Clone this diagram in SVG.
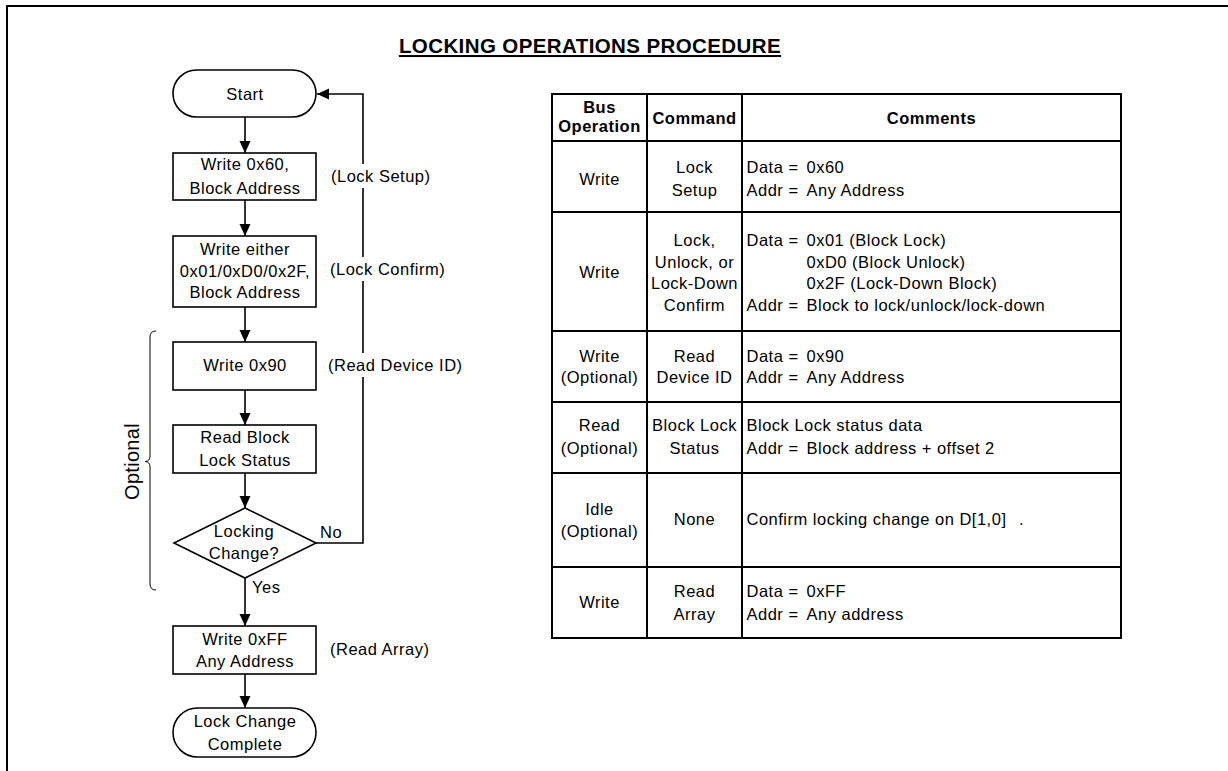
<svg xmlns="http://www.w3.org/2000/svg" width="1228" height="771" viewBox="0 0 1228 771">
<style>
text{font-family:"Liberation Sans",Arial,sans-serif;font-size:16.5px;letter-spacing:0.5px;fill:#000}
.c{text-anchor:middle}
.b{font-weight:bold}
.title{font-size:20.5px;font-weight:bold;letter-spacing:0.4px;text-anchor:middle;text-decoration:underline}
.shape{fill:#fff;stroke:#000;stroke-width:1.6}
.conn{fill:none;stroke:#000;stroke-width:1.6}
.tbl{fill:none;stroke:#000;stroke-width:2}
.bg{fill:#fff;stroke:none}
</style>
<defs>
<marker id="arr" markerUnits="userSpaceOnUse" markerWidth="13" markerHeight="12" refX="12" refY="5.5" orient="auto">
<path d="M0,0 L12,5.5 L0,11 z" fill="#000"/>
</marker>
</defs>
<rect width="1228" height="771" fill="#fff"/>
<!-- frame -->
<path d="M7,771 V6 H1228" fill="none" stroke="#000" stroke-width="2"/>
<text class="title" x="590" y="53">LOCKING OPERATIONS PROCEDURE</text>

<g id="connectors">
<line class="conn" x1="245" y1="117" x2="245" y2="153" marker-end="url(#arr)"/>
<line class="conn" x1="245" y1="200" x2="245" y2="236" marker-end="url(#arr)"/>
<line class="conn" x1="245" y1="307" x2="245" y2="342" marker-end="url(#arr)"/>
<line class="conn" x1="245" y1="390" x2="245" y2="425" marker-end="url(#arr)"/>
<line class="conn" x1="245" y1="473" x2="245" y2="508" marker-end="url(#arr)"/>
<line class="conn" x1="245" y1="578" x2="245" y2="626" marker-end="url(#arr)"/>
<line class="conn" x1="245" y1="674" x2="245" y2="708" marker-end="url(#arr)"/>
<polyline class="conn" points="316,543 363,543 363,94 317,94" marker-end="url(#arr)"/>
<text x="320" y="538">No</text>
<text x="252" y="593">Yes</text>
</g>

<g id="start">
<rect class="shape" x="173" y="70" width="143" height="47" rx="23.5" ry="23.5"/>
<text class="c" x="245" y="100">Start</text>
</g>
<g id="lock-setup">
<rect class="shape" x="173" y="153" width="143" height="47"/>
<text class="c" x="245" y="170">Write 0x60,</text>
<text class="c" x="245" y="194">Block Address</text>
</g>
<g id="lock-confirm">
<rect class="shape" x="173" y="236" width="143" height="71"/>
<text class="c" x="245" y="255">Write either</text>
<text class="c" x="245" y="277">0x01/0xD0/0x2F,</text>
<text class="c" x="245" y="298">Block Address</text>
</g>
<g id="read-id">
<rect class="shape" x="173" y="342" width="143" height="48"/>
<text class="c" x="245" y="371">Write 0x90</text>
</g>
<g id="read-status">
<rect class="shape" x="173" y="425" width="143" height="48"/>
<text class="c" x="245" y="443">Read Block</text>
<text class="c" x="245" y="466">Lock Status</text>
</g>
<g id="decision">
<polygon class="shape" points="245,508 316,543 245,578 174,543"/>
<text class="c" x="244" y="537">Locking</text>
<text class="c" x="244" y="559">Change?</text>
</g>
<g id="read-array">
<rect class="shape" x="173" y="626" width="143" height="48"/>
<text class="c" x="245" y="645">Write 0xFF</text>
<text class="c" x="245" y="667">Any Address</text>
</g>
<g id="complete">
<rect class="shape" x="173" y="708" width="143" height="49" rx="24.5" ry="24.5"/>
<text class="c" x="245" y="727">Lock Change</text>
<text class="c" x="245" y="750">Complete</text>
</g>

<g id="side-labels">
<rect class="bg" x="329" y="164" width="96" height="24"/>
<text x="331" y="182">(Lock Setup)</text>
<rect class="bg" x="328" y="257" width="108" height="24"/>
<text x="330" y="275">(Lock Confirm)</text>
<rect class="bg" x="326" y="353" width="126" height="24"/>
<text x="328" y="371">(Read Device ID)</text>
<text x="330" y="655">(Read Array)</text>
</g>

<g id="optional-brace">
<path d="M156,331 Q150,331 150,337 V456 Q150,461.5 145,461.5 Q150,461.5 150,467 V584 Q150,590 156,590" fill="none" stroke="#000" stroke-width="1"/>
<text class="c" transform="translate(139,461.5) rotate(-90)" x="0" y="0" style="font-size:20px;letter-spacing:0.3px">Optional</text>
</g>

<g id="table">
<rect class="tbl" x="552" y="94" width="569" height="544"/>
<line class="tbl" x1="647" y1="94" x2="647" y2="638"/>
<line class="tbl" x1="742" y1="94" x2="742" y2="638"/>
<line class="tbl" x1="552" y1="141" x2="1121" y2="141"/>
<line class="tbl" x1="552" y1="212" x2="1121" y2="212"/>
<line class="tbl" x1="552" y1="331" x2="1121" y2="331"/>
<line class="tbl" x1="552" y1="402" x2="1121" y2="402"/>
<line class="tbl" x1="552" y1="473" x2="1121" y2="473"/>
<line class="tbl" x1="552" y1="567" x2="1121" y2="567"/>

<text class="c b" x="599.5" y="113">Bus</text>
<text class="c b" x="599.5" y="132">Operation</text>
<text class="c b" x="694.5" y="124">Command</text>
<text class="c b" x="931.5" y="124">Comments</text>

<text class="c" x="599.5" y="185">Write</text>
<text class="c" x="694.5" y="173">Lock</text>
<text class="c" x="694.5" y="196">Setup</text>
<text x="746.5" y="173">Data =</text><text x="806.5" y="173">0x60</text>
<text x="746.5" y="196">Addr =</text><text x="806.5" y="196">Any Address</text>

<text class="c" x="599.5" y="278">Write</text>
<text class="c" x="694.5" y="246">Lock,</text>
<text class="c" x="694.5" y="267.5">Unlock, or</text>
<text class="c" x="694.5" y="289">Lock-Down</text>
<text class="c" x="694.5" y="310.5">Confirm</text>
<text x="746.5" y="246">Data =</text><text x="806.5" y="246">0x01 (Block Lock)</text>
<text x="806.5" y="267.5">0xD0 (Block Unlock)</text>
<text x="806.5" y="289">0x2F (Lock-Down Block)</text>
<text x="746.5" y="310.5">Addr =</text><text x="806.5" y="310.5">Block to lock/unlock/lock-down</text>

<text class="c" x="599.5" y="361.5">Write</text>
<text class="c" x="599.5" y="383">(Optional)</text>
<text class="c" x="694.5" y="361.5">Read</text>
<text class="c" x="694.5" y="383">Device ID</text>
<text x="746.5" y="361.5">Data =</text><text x="806.5" y="361.5">0x90</text>
<text x="746.5" y="383">Addr =</text><text x="806.5" y="383">Any Address</text>

<text class="c" x="599.5" y="431">Read</text>
<text class="c" x="599.5" y="454">(Optional)</text>
<text class="c" x="694.5" y="431">Block Lock</text>
<text class="c" x="694.5" y="454">Status</text>
<text x="746.5" y="431">Block Lock status data</text>
<text x="746.5" y="454">Addr =</text><text x="806.5" y="454">Block address + offset 2</text>

<text class="c" x="599.5" y="515">Idle</text>
<text class="c" x="599.5" y="537">(Optional)</text>
<text class="c" x="694.5" y="525">None</text>
<text x="746.5" y="525">Confirm locking change on D[1,0]<tspan x="1019">.</tspan></text>

<text class="c" x="599.5" y="608">Write</text>
<text class="c" x="694.5" y="597">Read</text>
<text class="c" x="694.5" y="620">Array</text>
<text x="746.5" y="597">Data =</text><text x="806.5" y="597">0xFF</text>
<text x="746.5" y="620">Addr =</text><text x="806.5" y="620">Any address</text>
</g>
</svg>
